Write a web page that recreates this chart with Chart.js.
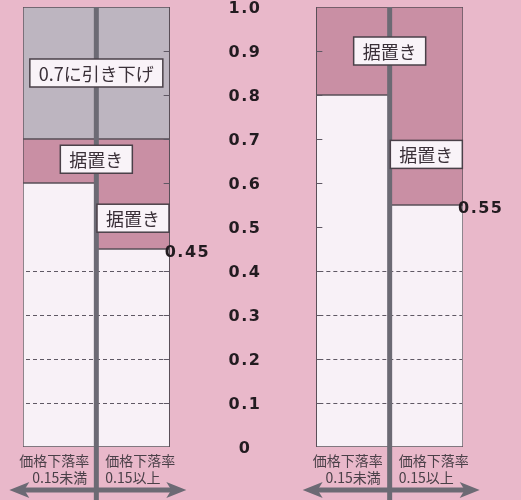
<!DOCTYPE html>
<html>
<head>
<meta charset="utf-8">
<script src="https://cdn.jsdelivr.net/npm/chart.js@4/dist/chart.umd.min.js"></script>
<style>
  html, body { margin: 0; padding: 0; background: #e9b8ca; }
  #wrap { width: 521px; height: 500px; position: relative; }
</style>
</head>
<body>
<div id="wrap"><canvas id="myChart"></canvas></div>
<script>
// columns: two per box, two empty slots in the middle for the axis labels
const columns = ["A1", "A2", "gapL", "gapR", "B1", "B2"];
const columnLabels = [
  ["価格下落率", "0.15未満"], ["価格下落率", "0.15以上"], null, null,
  ["価格下落率", "0.15未満"], ["価格下落率", "0.15以上"]
];
const whitePart = [0.6, 0.45, null, null, 0.8, 0.55];
const pinkPart = [0.1, 0.25, null, null, 0.2, 0.45];
const grayPart = [0.3, 0.3, null, null, 0, 0];
const yTicks = [0, 0.1, 0.2, 0.3, 0.4, 0.5, 0.6, 0.7, 0.8, 0.9, 1.0];
const yTickLabels = ["0", "0.1", "0.2", "0.3", "0.4", "0.5", "0.6", "0.7", "0.8", "0.9", "1.0"];
const dashedAt = [0.1, 0.2, 0.3, 0.4];
const valueMarks = [
  { text: "0.45", col: 1, value: 0.45 },
  { text: "0.55", col: 5, value: 0.55 }
];
// boxed notes: col may be fractional (0.5 = middle of a box)
const notes = [
  { text: "0.7に引き下げ", col: 0.5, value: 0.85 },
  { text: "据置き", col: 0.5, value: 0.654 },
  { text: "据置き", col: 1, value: 0.52 },
  { text: "据置き", col: 4.5, value: 0.9 },
  { text: "据置き", col: 5, value: 0.665 }
];

const INK = "#5a4f58";
const AXIS_GRAY = "#6c6a74";
const JP = "'Noto Sans CJK JP', 'Noto Sans', sans-serif";

const decor = {
  id: "decor",
  afterDatasetsDraw(chart) {
    const ctx = chart.ctx;
    const x = chart.scales.x, y = chart.scales.y;
    const half = (x.getPixelForValue(1) - x.getPixelForValue(0)) / 2;
    const colX = (c) => x.getPixelForValue(c);
    const boxes = [[colX(0) - half, colX(1) + half], [colX(4) - half, colX(5) + half]];

    ctx.save();
    // dashed lines in the white part
    ctx.strokeStyle = "#5f5864";
    ctx.lineWidth = 1;
    ctx.setLineDash([4, 3]);
    dashedAt.forEach((v) => {
      const py = Math.round(y.getPixelForValue(v)) + 0.5;
      boxes.forEach(([l, r]) => {
        ctx.beginPath(); ctx.moveTo(l + 3, py); ctx.lineTo(r - 1, py); ctx.stroke();
      });
    });
    ctx.setLineDash([]);

    // small inner ticks on the edges next to the axis
    yTicks.slice(1, 10).forEach((v) => {
      const py = Math.round(y.getPixelForValue(v)) + 0.5;
      ctx.beginPath(); ctx.moveTo(boxes[0][1] - 6, py); ctx.lineTo(boxes[0][1], py); ctx.stroke();
      ctx.beginPath(); ctx.moveTo(boxes[1][0], py); ctx.lineTo(boxes[1][0] + 6, py); ctx.stroke();
    });

    // thick center lines and arrows
    ctx.strokeStyle = AXIS_GRAY;
    ctx.fillStyle = AXIS_GRAY;
    const arrowY = 490;
    boxes.forEach(([l, r]) => {
      const cx = (l + r) / 2;
      ctx.lineWidth = 5;
      ctx.beginPath(); ctx.moveTo(cx, y.getPixelForValue(1)); ctx.lineTo(cx, 500); ctx.stroke();
      const a = cx - 87, b = cx + 90;
      ctx.beginPath(); ctx.moveTo(a + 12, arrowY); ctx.lineTo(b - 12, arrowY); ctx.stroke();
      ctx.beginPath(); ctx.moveTo(a, arrowY); ctx.lineTo(a + 20, arrowY - 8); ctx.lineTo(a + 15, arrowY); ctx.lineTo(a + 20, arrowY + 8); ctx.closePath(); ctx.fill();
      ctx.beginPath(); ctx.moveTo(b, arrowY); ctx.lineTo(b - 20, arrowY - 8); ctx.lineTo(b - 15, arrowY); ctx.lineTo(b - 20, arrowY + 8); ctx.closePath(); ctx.fill();
    });

    // axis labels in the middle
    const midX = (colX(2) + colX(3)) / 2;
    ctx.fillStyle = "#221b20";
    ctx.font = "bold 16px 'DejaVu Sans', sans-serif";
    ctx.letterSpacing = "1.5px";
    ctx.textAlign = "center";
    ctx.textBaseline = "middle";
    yTicks.forEach((v, i) => {
      ctx.fillText(yTickLabels[i], midX + 2, y.getPixelForValue(v) + 2);
    });

    // value marks next to the boxes
    ctx.textAlign = "left";
    valueMarks.forEach((m) => {
      ctx.fillText(m.text, colX(m.col) + half - 5, y.getPixelForValue(m.value) + 4);
    });
    ctx.letterSpacing = "0px";

    // labels under the columns, set off either side of the center line
    ctx.fillStyle = "#4a4048";
    ctx.font = "14px " + JP;
    columnLabels.forEach((lbl, i) => {
      if (!lbl) return;
      const left = i % 2 === 0;
      const edge = left ? colX(i) + half - 7 : colX(i) - half + 9;
      ctx.textAlign = left ? "right" : "left";
      ctx.fillText(lbl[0], edge, 461);
      ctx.fillText(lbl[1], left ? edge - 2 : edge, 478);
    });

    // boxed notes
    ctx.textAlign = "center";
    ctx.font = "18px " + JP;
    notes.forEach((n) => {
      const cx = colX(n.col), cy = y.getPixelForValue(n.value);
      const w = ctx.measureText(n.text).width + 18, h = 28;
      ctx.fillStyle = "#f9f3f8";
      ctx.fillRect(cx - w / 2, cy - h / 2, w, h);
      ctx.strokeStyle = "#4a4048";
      ctx.lineWidth = 1.5;
      ctx.strokeRect(cx - w / 2, cy - h / 2, w, h);
      ctx.fillStyle = "#3a3038";
      ctx.fillText(n.text, cx, cy + 1);
    });
    ctx.restore();
  }
};

const ctx = document.getElementById("myChart");
new Chart(ctx, {
  type: "bar",
  data: {
    labels: columns,
    datasets: [
      { label: "white", data: whitePart, backgroundColor: "#f8f1f7", borderColor: INK, borderWidth: 1 },
      { label: "pink", data: pinkPart, backgroundColor: "#c98fa4", borderColor: INK, borderWidth: 1 },
      { label: "gray", data: grayPart, backgroundColor: "#bdb5c0", borderColor: INK, borderWidth: 1 }
    ]
  },
  options: {
    responsive: true,
    maintainAspectRatio: false,
    animation: false,
    layout: { padding: { left: 23, right: 58, top: 7, bottom: 53 } },
    datasets: { bar: { barPercentage: 1, categoryPercentage: 1, borderSkipped: false } },
    plugins: { legend: { display: false }, tooltip: { enabled: false } },
    scales: {
      x: { stacked: true, display: false },
      y: { stacked: true, display: false, min: 0, max: 1 }
    }
  },
  plugins: [decor]
});
</script>
</body>
</html>
